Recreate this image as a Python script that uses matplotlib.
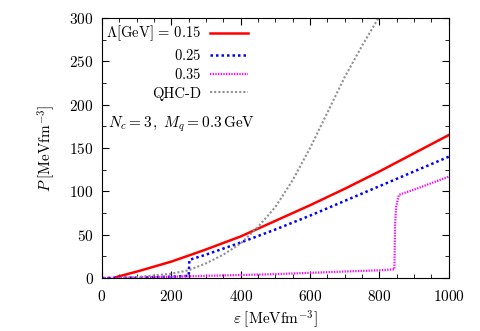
import numpy as np
import matplotlib
matplotlib.use("Agg")
import matplotlib.pyplot as plt
from matplotlib.ticker import MultipleLocator

plt.rcParams['font.family'] = 'cmr10'
plt.rcParams['mathtext.fontset'] = 'cm'
plt.rcParams['axes.formatter.use_mathtext'] = True

# Lambda = 0.15 GeV
eps_a = [40, 110, 200, 254, 300, 400, 500, 600, 700, 800, 900, 1000]
p_a = [1, 8.5, 19, 26.5, 33, 48, 66, 84, 103, 123, 144, 165]
# Lambda = 0.25 GeV
eps_b = [0, 100, 200, 250, 252, 300, 400, 500, 600, 700, 800, 900, 1000]
p_b = [0, 0.5, 1.5, 2.5, 21, 27, 41, 56, 72, 89, 106, 123, 140]
# Lambda = 0.35 GeV
eps_c = [0, 100, 200, 300, 400, 500, 600, 700, 800, 843, 845, 848, 856, 900, 1000]
p_c = [0, 0.5, 1.5, 2.5, 3.5, 4.5, 6, 7.5, 9, 10, 60, 82, 96, 102, 117]
# QHC-D
eps_d = [50, 100, 150, 200, 250, 300, 350, 400, 450, 500, 550, 600, 650, 700, 750, 800]
p_d = [0, 1, 3, 5, 9, 17, 27, 40, 59, 82, 113, 150, 191, 232, 268, 302]

labels = [r'$\Lambda[\mathrm{GeV}]\,=\,0.15$', r'$0.25$', r'$0.35$', 'QHC-D']

fig = plt.figure(figsize=(4.8, 3.31), dpi=100)
ax = fig.add_axes([0.2125, 0.16, 0.7225, 0.7856])

ax.plot(eps_a, p_a, color='#ff0000', lw=1.8, label=labels[0])
ax.plot(eps_b, p_b, color='#0000ff', lw=1.8, ls=(0, (1, 1.2)), label=labels[1])
ax.plot(eps_c, p_c, color='#ff00ff', lw=1.6, ls=(0, (0.6, 0.6)), label=labels[2])
ax.plot(eps_d, p_d, color='#909090', lw=1.5, ls=(0, (1, 1)), label=labels[3])

ax.set_xlim(0, 1000)
ax.set_ylim(0, 300)
ax.xaxis.set_major_locator(MultipleLocator(200))
ax.xaxis.set_minor_locator(MultipleLocator(50))
ax.yaxis.set_major_locator(MultipleLocator(50))
ax.yaxis.set_minor_locator(MultipleLocator(25))
ax.tick_params(which='both', direction='in', top=True, right=True, labelsize=11)
ax.tick_params(axis='x', pad=8)
ax.tick_params(axis='y', pad=6)
ax.tick_params(which='major', length=5)
ax.tick_params(which='minor', length=3)

ax.set_xlabel(r'$\varepsilon\;[\mathrm{MeV fm}^{-3}]$', fontsize=11, labelpad=3)
ax.set_ylabel(r'$P\;[\mathrm{MeV fm}^{-3}]$', fontsize=11, labelpad=9)

ax.legend(loc='upper left', bbox_to_anchor=(-0.005, 1.0), frameon=False,
          markerfirst=False, alignment='right', fontsize=10.5,
          handlelength=2.6, handletextpad=0.6, labelspacing=0.3,
          borderaxespad=0.05, borderpad=0.35)

ax.text(0.017, 0.59, r'$N_c = 3\,,\; M_q = 0.3\,\mathrm{GeV}$',
        transform=ax.transAxes, fontsize=11, va='center', ha='left')

fig.savefig('out.png', dpi=100)
